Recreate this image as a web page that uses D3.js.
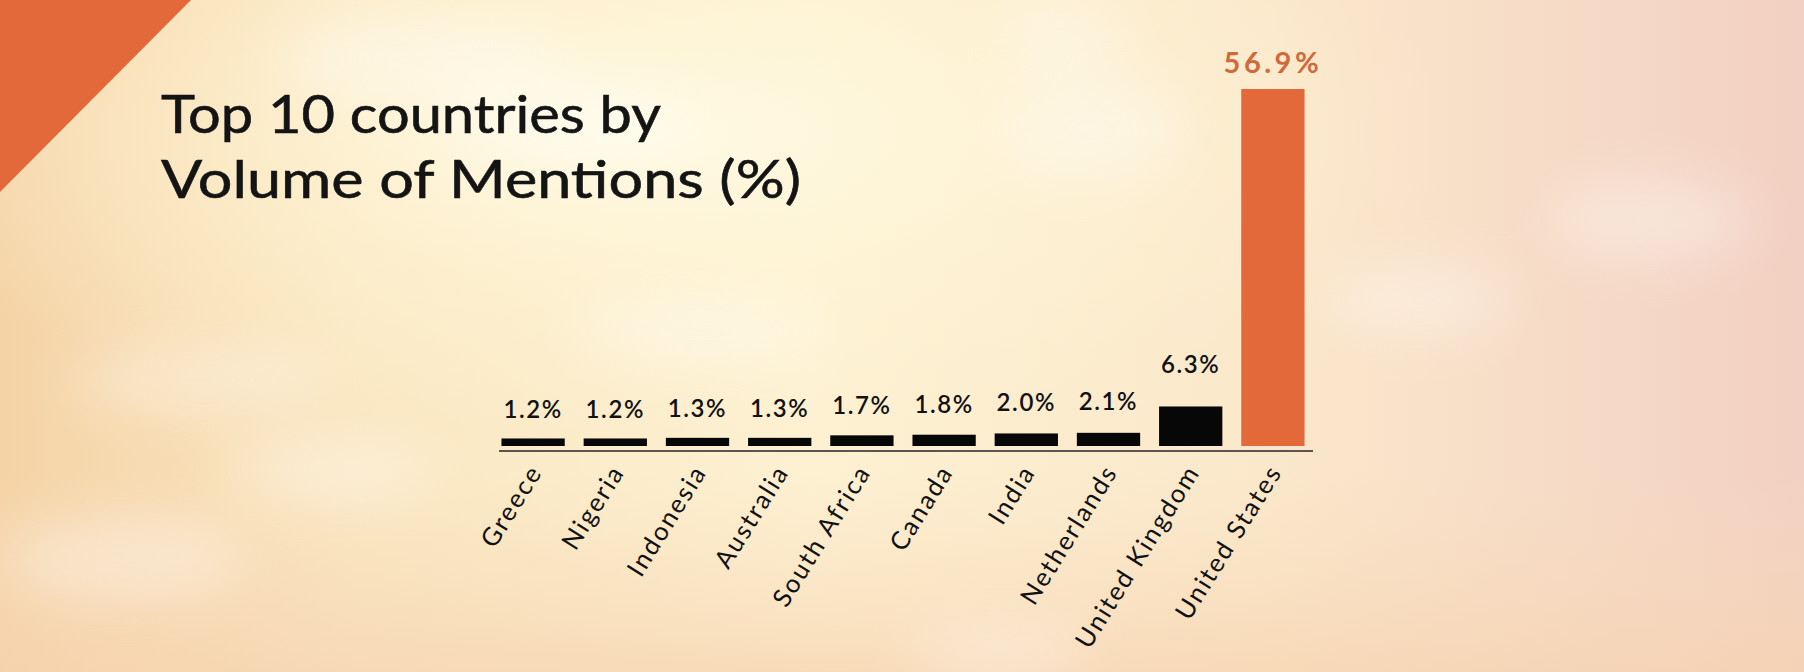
<!DOCTYPE html>
<html>
<head>
<meta charset="utf-8">
<script src="https://cdn.jsdelivr.net/npm/d3@7/dist/d3.min.js"></script>
<style>
  html, body { margin: 0; padding: 0; background: #fbecd0; }
  svg { display: block; }
</style>
</head>
<body>
<svg id="chart" width="1804" height="672"></svg>
<script>
const countries = ["Greece","Nigeria","Indonesia","Australia","South Africa","Canada","India","Netherlands","United Kingdom","United States"];
const mentions = [1.2, 1.2, 1.3, 1.3, 1.7, 1.8, 2.0, 2.1, 6.3, 56.9];
const valueLabels = ["1.2%","1.2%","1.3%","1.3%","1.7%","1.8%","2.0%","2.1%","6.3%","56.9%"];
const highlight = "United States";
const titleLines = ["Top 10 countries by", "Volume of Mentions (%)"];

const W = 1804, H = 672;
const svg = d3.select("#chart");
const defs = svg.append("defs");

// background gradients
const lg = defs.append("linearGradient").attr("id","bg").attr("x1","0").attr("x2","1").attr("y1","0").attr("y2","0");
[["0%","#f5d3a6"],["20%","#fae7c2"],["45%","#fdf1d2"],["70%","#fbe8cb"],["100%","#f2d0c3"]]
  .forEach(([o,c]) => lg.append("stop").attr("offset",o).attr("stop-color",c));
const rg = defs.append("radialGradient").attr("id","glow").attr("cx","0.36").attr("cy","0.2").attr("r","0.45");
[["0%","#fffbe6",0.95],["50%","#fff6d8",0.5],["100%","#fff6d8",0]]
  .forEach(([o,c,a]) => rg.append("stop").attr("offset",o).attr("stop-color",c).attr("stop-opacity",a));
const bg2 = defs.append("linearGradient").attr("id","bottom").attr("x1","0").attr("x2","0").attr("y1","0").attr("y2","1");
[["0%","#f8dcbc",0],["70%","#f8dcbc",0],["100%","#f6d3b0",0.7]]
  .forEach(([o,c,a]) => bg2.append("stop").attr("offset",o).attr("stop-color",c).attr("stop-opacity",a));
defs.append("filter").attr("id","blur").attr("x","-50%").attr("y","-50%").attr("width","200%").attr("height","200%")
  .append("feGaussianBlur").attr("stdDeviation", 26);

svg.append("rect").attr("width",W).attr("height",H).attr("fill","url(#bg)");
svg.append("rect").attr("width",W).attr("height",H).attr("fill","url(#glow)");
svg.append("rect").attr("width",W).attr("height",H).attr("fill","url(#bottom)");

// soft cloud wisps (decorative)
const clouds = [
  [420,60,140,45],[560,120,120,40],[1090,130,90,50],[1060,40,60,30],[1420,300,90,35],
  [200,380,130,30],[330,470,100,30],[120,560,120,40],[1650,220,100,40],[1000,650,90,25],[700,330,120,30]
];
svg.append("g").attr("filter","url(#blur)").attr("opacity",0.35)
  .selectAll("ellipse").data(clouds).join("ellipse")
  .attr("cx",d=>d[0]).attr("cy",d=>d[1]).attr("rx",d=>d[2]).attr("ry",d=>d[3])
  .attr("fill","#ffffff");

// top-left orange triangle
svg.append("path").attr("d","M0,0 L191,0 L0,192 Z").attr("fill","#e3683a");

// title
svg.append("g").selectAll("text").data(titleLines).join("text")
  .attr("x",161).attr("y",(d,i)=>133 + i*65)
  .attr("font-family","Lato, 'Noto Sans', sans-serif")
  .attr("font-size",53).attr("fill","#141414")
  .attr("stroke","#141414").attr("stroke-width",0.6)
  .attr("textLength",(d,i)=> i===0 ? 500 : 640).attr("lengthAdjust","spacingAndGlyphs")
  .text(d=>d);

// scales
const x = d3.scaleBand().domain(countries).range([492, 1314]).paddingInner(0.23).paddingOuter(0.115);
const y = d3.scaleLinear().domain([0, 56.9]).range([446, 89]);

// bars
svg.append("g").selectAll("rect").data(countries).join("rect")
  .attr("x",d=>x(d)).attr("width",x.bandwidth())
  .attr("y",(d,i)=>y(mentions[i])).attr("height",(d,i)=>y(0)-y(mentions[i]))
  .attr("fill",d=> d===highlight ? "#e3683a" : "#070707");

// axis baseline
const axis = d3.axisBottom(x).tickSize(0).tickFormat("");
const axG = svg.append("g").attr("transform",`translate(0,${y(0)+5})`).call(axis);
axG.select(".domain").attr("stroke","#5a5550").attr("stroke-width",2.2).attr("d","M499,0H1313");

// value labels
svg.append("g").selectAll("text").data(countries).join("text")
  .attr("x",d=>x(d)+x.bandwidth()/2)
  .attr("y",(d,i)=>y(mentions[i]) - (d===highlight ? 16 : 17 + mentions[i]*2.6))
  .attr("text-anchor","middle")
  .attr("font-family","Lato, 'Noto Sans', sans-serif")
  .attr("font-weight",d=> d===highlight ? 700 : 600)
  .attr("font-size",d=> d===highlight ? 29 : 24)
  .attr("letter-spacing",d=> d===highlight ? 3.5 : 1.6)
  .attr("fill",d=> d===highlight ? "#d06a3c" : "#111")
  .text((d,i)=>valueLabels[i]);

// country labels
svg.append("g").selectAll("text").data(countries).join("text")
  .attr("transform",d=>`translate(${x(d)+x.bandwidth()/2+10},${y(0)+26}) rotate(-58)`)
  .attr("text-anchor","end")
  .attr("font-family","Lato, 'Noto Sans', sans-serif")
  .attr("font-size",25.5).attr("letter-spacing",2)
  .attr("fill","#111")
  .text(d=>d);
</script>
</body>
</html>
